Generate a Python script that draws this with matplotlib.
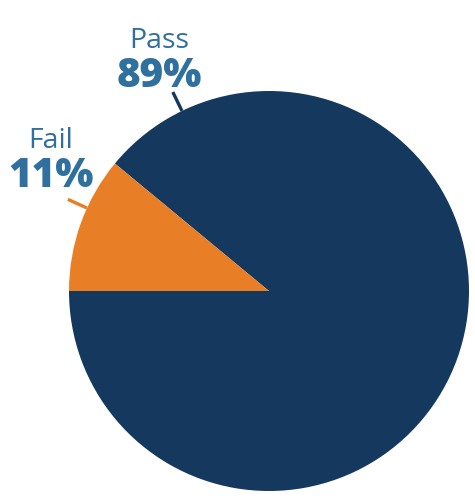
import numpy as np
import matplotlib.pyplot as plt

# data
labels = ["Pass", "Fail"]
shares = [89, 11]

NAVY = "#15385F"
ORANGE = "#E87E25"
LABEL_BLUE = "#30709E"
colors = [NAVY, ORANGE]

plt.rcParams["font.family"] = ["Open Sans", "DejaVu Sans"]

fig = plt.figure(figsize=(4.75, 5.0), dpi=100)
ax = fig.add_axes([0, 0, 1, 1])
ax.set_aspect("equal")
ax.axis("off")

R = 200
ax.pie(shares, colors=colors, startangle=180, counterclock=True,
       radius=R, center=(0, 0), wedgeprops=dict(linewidth=0))
ax.set_xlim(-269, 206)
ax.set_ylim(-209, 291)

# leader ticks + labels (angle of tick, text anchor)
label_pos = {
    "Pass": dict(angle=115.8, x=-110, y_name=243, y_pct=204),
    "Fail": dict(angle=155.5, x=-218, y_name=143, y_pct=104),
}

for lab, val, col in zip(labels, shares, colors):
    p = label_pos[lab]
    a = np.deg2rad(p["angle"])
    ax.plot([R * np.cos(a), (R + 21) * np.cos(a)],
            [R * np.sin(a), (R + 21) * np.sin(a)],
            color=col, linewidth=2.4, solid_capstyle="butt")
    ax.text(p["x"], p["y_name"], lab, ha="center", va="baseline",
            fontsize=20.5, color=LABEL_BLUE)
    ax.text(p["x"], p["y_pct"], f"{val}%", ha="center", va="baseline",
            fontsize=29, fontweight="heavy", color=LABEL_BLUE)

fig.savefig("out.png", dpi=100, facecolor="white")
